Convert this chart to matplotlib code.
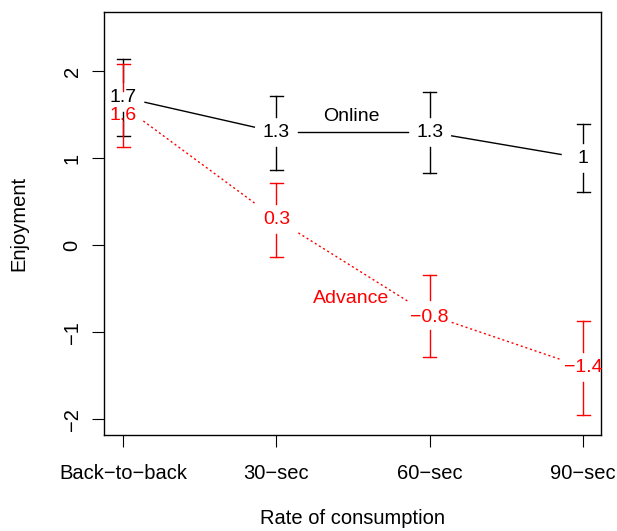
import numpy as np
import matplotlib
matplotlib.use("Agg")
import matplotlib.pyplot as plt

plt.rcParams['font.family'] = ['Liberation Sans', 'DejaVu Sans']

# data
conditions = ["Back\u2212to\u2212back", "30\u2212sec", "60\u2212sec", "90\u2212sec"]
online_mean = [1.7, 1.3, 1.3, 1.0]
online_lo = [1.26, 0.86, 0.83, 0.61]
online_hi = [2.14, 1.72, 1.76, 1.39]
advance_mean = [1.6, 0.3, -0.8, -1.4]
advance_lo = [1.13, -0.14, -1.28, -1.95]
advance_hi = [2.08, 0.72, -0.34, -0.87]
online_text = ["1.7", "1.3", "1.3", "1"]
advance_text = ["1.6", "0.3", "\u22120.8", "\u22121.4"]
# where the value labels sit (the 1.6 label is nudged down in the original)
online_text_y = [1.7, 1.3, 1.3, 1.0]
advance_text_y = [1.49, 0.3, -0.83, -1.41]

W, H = 617, 531
fig = plt.figure(figsize=(W / 100, H / 100), dpi=100)
ax = fig.add_axes([104 / W, 1 - 435 / H, (601 - 104) / W, (435 - 12) / H])
ax.set_xlim(0.876, 4.117)
ax.set_ylim(-2.18, 2.68)

GX, GY = 22, 15   # half size (px) of the blank box around each point
CAP = 6.5         # half cap width (px)


def to_px(x, y):
    return ax.transData.transform((x, y))


def to_data(px, py):
    return ax.transData.inverted().transform((px, py))


def clip_seg(p0, p1):
    # shorten segment so it stays out of the boxes at both ends
    d = p1 - p0
    ts = []
    for g, c in ((GX, abs(d[0])), (GY, abs(d[1]))):
        ts.append(g / c if c > 0 else np.inf)
    t = min(ts)
    return p0 + d * t, p1 - d * t


def draw_series(means, lo, hi, labels, label_y, color, ls):
    xs = np.arange(1, len(means) + 1)
    pts = [to_px(x, m) for x, m in zip(xs, means)]
    for a, b in zip(pts[:-1], pts[1:]):
        s, e = clip_seg(np.array(a), np.array(b))
        s, e = to_data(*s), to_data(*e)
        ax.plot([s[0], e[0]], [s[1], e[1]], color=color, lw=1.0, ls=ls)
    for x, m, l, h, p in zip(xs, means, lo, hi, pts):
        top = to_px(x, h)
        bot = to_px(x, l)
        for end, sign in ((top, 1), (bot, -1)):
            a = to_data(p[0], p[1] + sign * GY)
            b = to_data(end[0], end[1])
            ax.plot([a[0], b[0]], [a[1], b[1]], color=color, lw=1.0)
            c0 = to_data(end[0] - CAP, end[1])
            c1 = to_data(end[0] + CAP, end[1])
            ax.plot([c0[0], c1[0]], [c0[1], c1[1]], color=color, lw=1.0)
    for x, ty, t in zip(xs, label_y, labels):
        ax.text(x, ty, t, color=color, fontsize=14, ha='center', va='center')


draw_series(online_mean, online_lo, online_hi, online_text, online_text_y, 'black', '-')
draw_series(advance_mean, advance_lo, advance_hi, advance_text, advance_text_y,
            'red', (0, (1.5, 2)))

ax.text(2.49, 1.48, "Online", color='black', fontsize=14, ha='center', va='center')
ax.text(2.49, -0.61, "Advance", color='red', fontsize=14, ha='center', va='center')

ax.set_xticks([1, 2, 3, 4])
ax.set_xticklabels(conditions)
ax.set_yticks([-2, -1, 0, 1, 2])
ax.set_yticklabels(["\u22122", "\u22121", "0", "1", "2"], rotation=90, va='center')
ax.tick_params(length=8.6, width=0.8, labelsize=14.5)
ax.tick_params(axis='x', pad=12)
ax.tick_params(axis='y', pad=7.5)
for s in ax.spines.values():
    s.set_linewidth(1.0)

ax.set_xlabel("Rate of consumption", fontsize=14.5, labelpad=19)
ax.set_ylabel("Enjoyment", fontsize=14.5, labelpad=25)

fig.savefig("out.png", dpi=100)
